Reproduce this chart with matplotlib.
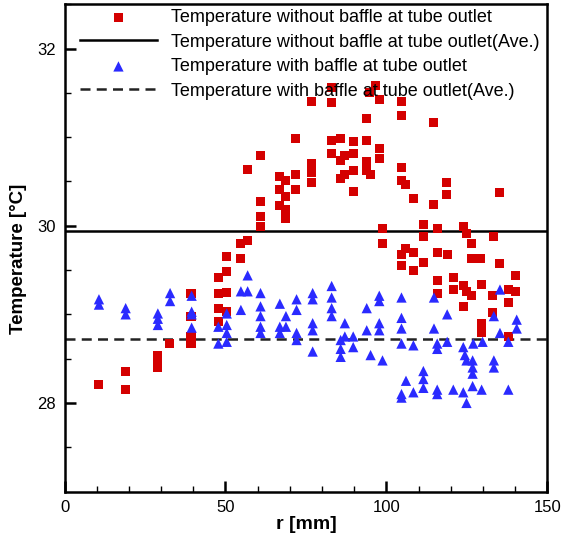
import matplotlib.pyplot as plt

# Datos: temperatura a la salida del tubo vs radio
r_sin_deflector = [10.7, 18.8, 18.8, 29.0, 29.0, 29.0, 32.7, 39.3, 39.3, 39.3, 39.3,
                   47.8, 47.8, 47.8, 47.8, 50.2, 50.2, 50.2, 50.2, 54.7, 54.7, 56.9, 56.9,
                   60.9, 60.9, 60.9, 60.9, 66.9, 66.9, 66.9, 68.8, 68.8, 68.8, 68.8,
                   71.9, 71.9, 71.9, 76.8, 76.8, 76.8, 76.8, 83.0, 83.0, 83.0, 83.0,
                   85.6, 85.6, 85.6, 87.1, 87.1, 89.7, 89.7, 89.7, 89.7,
                   93.9, 93.9, 93.9, 93.9, 95.1, 94.9, 96.5, 97.8, 97.8, 97.8, 98.8, 98.8,
                   104.7, 104.7, 104.7, 104.7, 106.1, 108.4, 104.7, 104.7, 106.1, 108.4, 108.4,
                   111.5, 111.5, 111.5, 114.6, 114.8, 115.8, 115.8, 115.8, 115.8,
                   118.8, 118.8, 118.9, 120.8, 120.8, 123.9, 124.9, 123.9, 124.9, 123.9,
                   126.5, 126.5, 126.5, 129.1, 129.6, 129.6, 129.6, 133.0, 133.0, 133.2,
                   135.1, 135.1, 137.9, 137.9, 137.9, 140.0, 140.0]
t_sin_deflector = [28.21, 28.36, 28.15, 28.40, 28.47, 28.54, 28.67, 29.24, 28.98, 28.67, 28.75,
                   29.42, 29.24, 29.07, 28.92, 29.65, 29.48, 29.25, 29.03, 29.80, 29.63, 29.83, 30.63,
                   30.79, 30.27, 30.10, 29.99, 30.56, 30.41, 30.23, 30.51, 30.33, 30.18, 30.08,
                   30.98, 30.58, 30.41, 31.40, 30.70, 30.60, 30.49, 31.56, 31.39, 30.96, 30.81,
                   30.98, 30.74, 30.53, 30.79, 30.58, 30.95, 30.81, 30.62, 30.39,
                   31.21, 30.96, 30.72, 30.62, 30.58, 31.50, 31.58, 31.42, 30.87, 30.76, 29.97, 29.80,
                   31.40, 31.25, 30.66, 30.51, 30.47, 30.31, 29.68, 29.55, 29.74, 29.70, 29.49,
                   30.01, 29.88, 29.59, 31.17, 30.24, 29.97, 29.70, 29.38, 29.24,
                   30.49, 30.35, 29.68, 29.42, 29.28, 29.99, 29.91, 29.32, 29.26, 29.09,
                   29.80, 29.63, 29.21, 29.63, 29.34, 28.90, 28.79, 29.21, 29.02, 29.88,
                   30.37, 29.57, 29.28, 29.13, 28.75, 29.44, 29.26]

r_con_deflector = [10.7, 10.7, 19.0, 19.0, 29.0, 29.0, 29.0, 32.8, 32.8, 39.5, 39.5, 39.5, 39.5,
                   47.8, 47.8, 50.4, 50.4, 50.4, 50.4, 56.9, 56.9, 54.8, 54.8,
                   60.9, 60.9, 60.9, 60.9, 60.9, 66.9, 66.9, 66.9, 68.8, 68.8,
                   72.1, 72.1, 72.1, 72.1, 77.1, 77.1, 77.1, 77.1, 77.1,
                   83.0, 83.0, 83.0, 83.0, 85.8, 85.8, 85.8, 87.1, 87.1, 89.7, 89.7,
                   93.9, 93.9, 95.1, 97.8, 97.8, 97.8, 97.8, 98.8,
                   104.7, 104.7, 104.7, 104.7, 108.4, 106.1, 104.7, 104.7, 108.4,
                   111.5, 111.5, 111.5, 114.8, 118.9, 114.8, 115.8, 115.8, 118.9,
                   123.9, 124.4, 124.9, 127.0, 126.8, 126.8, 126.8, 129.9,
                   135.3, 133.4, 133.4, 133.4, 135.3, 137.9, 140.5, 140.5,
                   115.8, 115.8, 120.8, 123.9, 124.9, 126.8, 129.6, 137.9]
t_con_deflector = [29.17, 29.11, 29.07, 29.00, 29.01, 28.95, 28.88, 29.24, 29.15, 29.21, 29.03, 29.00, 28.85,
                   28.86, 28.67, 29.01, 28.88, 28.79, 28.69, 29.44, 29.26, 29.26, 29.05,
                   29.24, 29.09, 28.98, 28.86, 28.79, 29.12, 28.86, 28.79, 28.98, 28.86,
                   29.17, 29.05, 28.79, 28.71, 29.24, 29.17, 28.90, 28.82, 28.58,
                   29.32, 29.19, 29.07, 28.98, 28.71, 28.61, 28.52, 28.90, 28.75, 28.75, 28.63,
                   29.07, 28.82, 28.54, 29.21, 29.15, 28.90, 28.82, 28.48,
                   29.19, 28.96, 28.84, 28.67, 28.65, 28.25, 28.06, 28.10, 28.12,
                   28.36, 28.27, 28.17, 29.19, 29.00, 28.84, 28.67, 28.61, 28.69,
                   28.63, 28.54, 28.48, 28.67, 28.48, 28.40, 28.33, 28.69,
                   29.28, 28.98, 28.48, 28.40, 28.79, 28.69, 28.94, 28.84,
                   28.15, 28.10, 28.15, 28.12, 28.00, 28.19, 28.15, 28.15]

# Promedios (lineas horizontales)
promedio_sin = 29.94
promedio_con = 28.72

etiquetas = ["Temperature without baffle at tube outlet",
             "Temperature without baffle at tube outlet(Ave.)",
             "Temperature with baffle at tube outlet",
             "Temperature with baffle at tube outlet(Ave.)"]

plt.rcParams['font.family'] = ['Liberation Sans', 'DejaVu Sans']

fig = plt.figure(figsize=(5.62, 5.36), dpi=100)
ax = fig.add_axes([0.1148, 0.083, 0.859, 0.909])

# Puntos
p1 = ax.scatter(r_sin_deflector, t_sin_deflector, marker='s', s=42, color='#d40000',
                edgecolors='none', zorder=3)
p3 = ax.scatter(r_con_deflector, t_con_deflector, marker='^', s=55, color='#2a2aff',
                edgecolors='none', zorder=3)

# Lineas de promedio
l2 = ax.axhline(promedio_sin, color='black', lw=1.8, zorder=2)
l4 = ax.axhline(promedio_con, color='#222222', lw=1.8, dashes=(4, 2.5), zorder=2)

ax.set_xlim(0, 150)
ax.set_ylim(27, 32.5)
ax.set_xticks([0, 50, 100, 150])
ax.set_xticks(range(0, 151, 10), minor=True)
ax.set_yticks([28, 30, 32])
ax.set_yticks([27.5, 28.5, 29, 29.5, 30.5, 31, 31.5, 32.5], minor=True)
ax.tick_params(which='both', direction='in', labelsize=12, width=1.8)
ax.tick_params(which='major', length=8, pad=6)
ax.tick_params(which='minor', length=4, width=1)
for spine in ax.spines.values():
    spine.set_linewidth(1.8)

ax.set_xlabel("r [mm]", fontsize=14, fontweight='bold', labelpad=1)
ax.set_ylabel("Temperature [°C]", fontsize=13.5, fontweight='bold')
ax.yaxis.set_label_coords(-0.078, 0.478)

ax.legend([p1, l2, p3, l4], etiquetas, loc='upper left',
          bbox_to_anchor=(80 / 562, 1 - 9 / 536), bbox_transform=fig.transFigure,
          frameon=False, fontsize=13, handlelength=4.26, handletextpad=0.78,
          labelspacing=0.42, borderpad=0, borderaxespad=0, scatterpoints=1)

fig.savefig("out.png", dpi=100)
